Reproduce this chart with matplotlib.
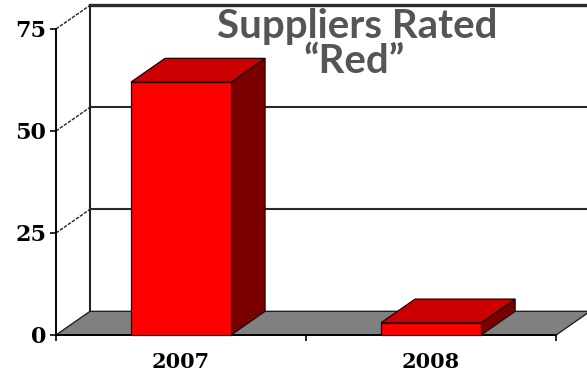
import matplotlib
matplotlib.use("Agg")
import matplotlib.pyplot as plt
from matplotlib.patches import Polygon

# data
categories = ["2007", "2008"]
values = [62, 3]
y_ticks = [0, 25, 50, 75]
title_lines = ["Suppliers Rated", "\u201cRed\u201d"]

# fake 3d look (depth offset in data units)
DX = 0.136
DY = 5.8
BAR_W = 0.4
YMAX = 75

fig = plt.figure(figsize=(5.87, 3.75), dpi=100)
ax = fig.add_axes([0.0954, 0.1067, 0.852, 0.816])
ax.set_xlim(0, len(categories))
ax.set_ylim(0, YMAX)

for s in ["top", "right", "bottom", "left"]:
    ax.spines[s].set_visible(False)

# back wall: left edge, gridlines, diagonals to front axis
ax.plot([DX, DX], [DY, YMAX + DY], color="#222222", lw=1.5, clip_on=False, zorder=1)
for v in y_ticks[1:]:
    lw = 2.4 if v == YMAX else 1.5
    ax.plot([DX, len(categories) + DX + 0.2], [v + DY, v + DY],
            color="#2a2a2a", lw=lw, clip_on=False, zorder=1)
    ax.plot([0, DX], [v, v + DY], color="#222222", lw=1.0,
            ls=(0, (2.5, 1)), clip_on=False, zorder=1)

# floor
n = len(categories)
floor = Polygon([(0, 0), (n, 0), (n + DX, DY), (DX, DY)], closed=True,
                facecolor="#808080", edgecolor="#222222", lw=1.0,
                clip_on=False, zorder=2)
ax.add_patch(floor)

# front axis line
ax.plot([0, 0], [0, YMAX], color="black", lw=1.4, clip_on=False, zorder=3)
ax.plot([0, n], [0, 0], color="black", lw=1.4, clip_on=False, zorder=3)

# bars
for i, v in enumerate(values):
    x0 = i + 0.5 - BAR_W / 2
    x1 = i + 0.5 + BAR_W / 2
    top = Polygon([(x0, v), (x1, v), (x1 + DX, v + DY), (x0 + DX, v + DY)],
                  closed=True, facecolor="#cc0000", edgecolor="#200000",
                  lw=0.9, clip_on=False, zorder=4)
    side = Polygon([(x1, 0), (x1 + DX, DY), (x1 + DX, v + DY), (x1, v)],
                   closed=True, facecolor="#7a0000", edgecolor="#200000",
                   lw=0.9, clip_on=False, zorder=4)
    ax.add_patch(side)
    ax.add_patch(top)
    ax.bar(i + 0.5, v, width=BAR_W, color="#ff0000", edgecolor="#200000",
           lw=0.9, zorder=5, clip_on=False)

# ticks
ax.set_yticks(y_ticks)
ax.set_yticklabels([str(t) for t in y_ticks], fontfamily="DejaVu Serif",
                   fontweight="bold", fontsize=16)
ax.tick_params(axis="y", length=4, width=1.2, pad=3, color="black")
ax.set_xticks([i + 0.5 for i in range(n)])
ax.set_xticklabels(categories, fontfamily="DejaVu Serif",
                   fontweight="bold", fontsize=15)
ax.set_xticks(range(n + 1), minor=True)
ax.tick_params(axis="x", which="major", length=0, pad=12)
ax.tick_params(axis="x", which="minor", length=4, width=1.2, color="black")

fig.text(0.608, 0.899, title_lines[0], ha="center", va="baseline", fontsize=29,
         fontfamily="Lato", fontweight="bold", color="#555555", zorder=10)
fig.text(0.603, 0.805, title_lines[1], ha="center", va="baseline", fontsize=29,
         fontfamily="Lato", fontweight="bold", color="#555555", zorder=10)

fig.savefig("out.png", dpi=100)
